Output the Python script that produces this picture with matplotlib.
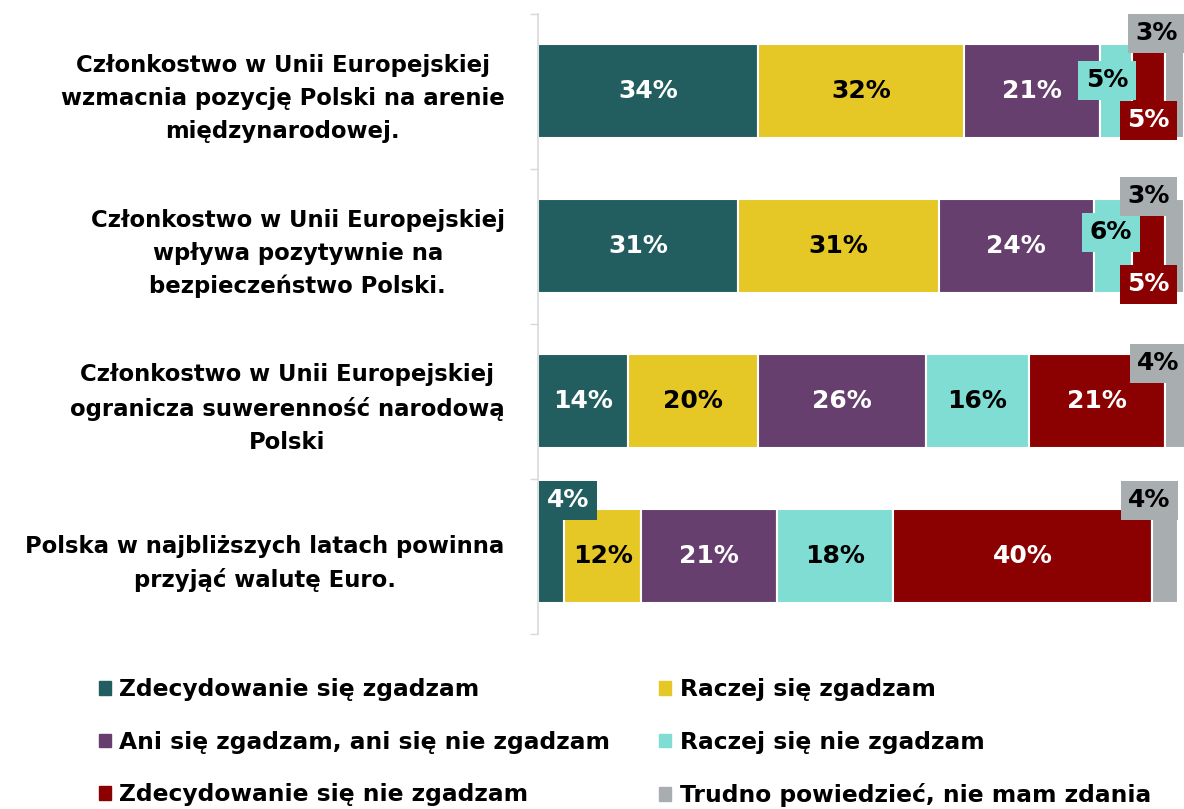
import matplotlib.pyplot as plt
from matplotlib.patches import Patch

plt.rcParams['font.family'] = ['DejaVu Sans']
plt.rcParams['font.weight'] = 'bold'

# Data
statements = [
    "Członkostwo w Unii Europejskiej\nwzmacnia pozycję Polski na arenie\nmiędzynarodowej.",
    "Członkostwo w Unii Europejskiej\nwpływa pozytywnie na\nbezpieczeństwo Polski.",
    "Członkostwo w Unii Europejskiej\nogranicza suwerenność narodową\nPolski",
    "Polska w najbliższych latach powinna\nprzyjąć walutę Euro.",
]
answers = [
    "Zdecydowanie się zgadzam",
    "Raczej się zgadzam",
    "Ani się zgadzam, ani się nie zgadzam",
    "Raczej się nie zgadzam",
    "Zdecydowanie się nie zgadzam",
    "Trudno powiedzieć, nie mam zdania",
]
strongly_agree = [34, 31, 14, 4]
agree = [32, 31, 20, 12]
neutral = [21, 24, 26, 21]
disagree = [5, 6, 16, 18]
strongly_disagree = [5, 5, 21, 40]
no_opinion = [3, 3, 4, 4]

series = [strongly_agree, agree, neutral, disagree, strongly_disagree, no_opinion]
colors = ["#225E5F", "#E5C725", "#663F6E", "#80DDD3", "#8B0000", "#A8AEB0"]
text_colors = ["white", "black", "white", "black", "white", "black"]

# label offsets (pixels) for small segments: (row, series) -> (dx, dy)
offsets = {
    (0, 3): (-9, 11), (0, 4): (0, -29), (0, 5): (-18, 58),
    (1, 3): (-2, 14), (1, 4): (0, -38), (1, 5): (-26, 50),
    (2, 5): (-19, 38),
    (3, 0): (17, 56), (3, 5): (-15, 56),
}

fig = plt.figure(figsize=(11.84, 8.09), dpi=100)
W, H = 1184, 809
ax = fig.add_axes([538 / W, 1 - 633.5 / H, (W - 538) / W, 620 / H])

ypos = list(range(len(statements)))
left = [0] * len(statements)
for j, vals in enumerate(series):
    bars = ax.barh(ypos, vals, left=left, height=0.61, color=colors[j],
                   edgecolor="white", linewidth=1.5, label=answers[j])
    for i, v in enumerate(vals):
        cx = left[i] + v / 2
        if (i, j) in offsets:
            dx, dy = offsets[(i, j)]
            ax.annotate(f"{v}%", (cx, i), xytext=(dx, dy), textcoords="offset pixels",
                        ha="center", va="center", fontsize=18, color=text_colors[j],
                        fontweight="bold", annotation_clip=False,
                        bbox=dict(boxstyle="square,pad=0.3", fc=colors[j], ec="none"))
        else:
            ax.text(cx, i, f"{v}%", ha="center", va="center", fontsize=18,
                    color=text_colors[j], fontweight="bold")
    left = [l + v for l, v in zip(left, vals)]

ax.set_xlim(0, 100)
ax.set_ylim(len(statements) - 0.5, -0.5)
ax.set_yticks(ypos)
ax.set_yticklabels(statements, fontsize=16.4, fontweight="bold", linespacing=1.55,
                   multialignment="center")
ax.set_yticks([k - 0.5 for k in range(len(statements) + 1)], minor=True)
ax.tick_params(axis="y", which="major", length=0, pad=24)
ax.tick_params(axis="y", which="minor", length=6, color="#D9D9D9", width=1)
ax.set_xticks([])
for s in ["top", "right", "bottom"]:
    ax.spines[s].set_visible(False)
ax.spines["left"].set_color("#D9D9D9")
ax.spines["left"].set_linewidth(1.2)

handles = [Patch(color=c) for c in colors]
order = [0, 2, 4, 1, 3, 5]
fig.legend([handles[k] for k in order], [answers[k] for k in order],
           ncol=2, loc="upper left", bbox_to_anchor=(78 / W, 1 - 657 / H),
           frameon=False, fontsize=16.8, handlelength=0.52, handleheight=0.52,
           handletextpad=0.35, columnspacing=2.1, labelspacing=1.27)

fig.savefig("out.png", dpi=100)
